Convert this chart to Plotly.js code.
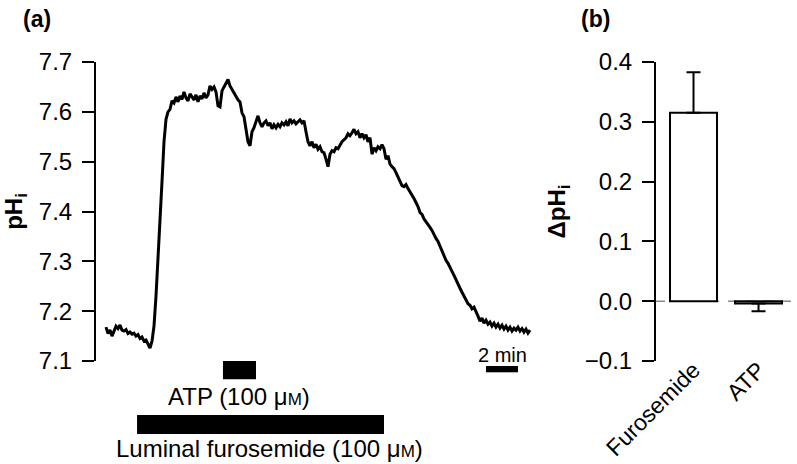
<!DOCTYPE html>
<html><head><meta charset="utf-8">
<script src="https://cdn.plot.ly/plotly-3.0.1.min.js"></script>
<style>html,body{margin:0;padding:0;background:#fff}#chart{width:797px;height:464px}</style>
</head><body><div id="chart"></div>
<script>
// Panel (a): pHi trace, sampled every 0.125 min starting at t = 0
const sampleIntervalMin = 0.125;
const pHi = [
7.168,7.155,7.162,7.150,7.160,7.170,7.165,7.172,7.162,7.160,
7.163,7.155,7.158,7.154,7.156,7.150,7.153,7.145,7.148,7.140,
7.142,7.132,7.126,7.140,7.170,7.230,7.300,7.370,7.460,7.540,
7.585,7.600,7.605,7.622,7.618,7.630,7.620,7.632,7.625,7.640,
7.628,7.622,7.636,7.630,7.624,7.634,7.620,7.632,7.626,7.638,
7.628,7.634,7.652,7.645,7.650,7.640,7.612,7.610,7.642,7.650,
7.658,7.665,7.652,7.645,7.636,7.630,7.624,7.620,7.598,7.590,
7.565,7.540,7.532,7.560,7.568,7.580,7.592,7.578,7.570,7.578,
7.582,7.572,7.578,7.566,7.574,7.568,7.575,7.570,7.578,7.574,
7.580,7.572,7.586,7.578,7.582,7.576,7.580,7.584,7.578,7.582,
7.560,7.540,7.532,7.540,7.528,7.535,7.525,7.530,7.520,7.518,
7.505,7.490,7.515,7.522,7.520,7.528,7.526,7.534,7.540,7.544,
7.548,7.556,7.552,7.558,7.565,7.556,7.560,7.548,7.556,7.548,
7.554,7.540,7.548,7.515,7.528,7.522,7.530,7.526,7.534,7.526,
7.505,7.512,7.495,7.490,7.486,7.478,7.470,7.462,7.452,7.450,
7.454,7.446,7.440,7.432,7.426,7.418,7.410,7.398,7.394,7.385,
7.380,7.374,7.368,7.362,7.352,7.346,7.340,7.330,7.320,7.312,
7.302,7.296,7.286,7.280,7.272,7.262,7.256,7.246,7.238,7.230,
7.222,7.215,7.212,7.205,7.208,7.200,7.190,7.180,7.186,7.176,
7.182,7.174,7.178,7.170,7.176,7.168,7.174,7.166,7.172,7.164,
7.170,7.162,7.168,7.160,7.166,7.162,7.168,7.160,7.165,7.158,
7.164,7.156,7.162
];
const timeMin = pHi.map((_, i) => i * sampleIntervalMin);

// Application periods (min)
const atpPeriod = [7.31, 9.375];
const furosemidePeriod = [1.94, 17.375];
const scaleBar = [23.75, 25.75];
const atpLabel = 'ATP (100 \u03bc<span style="font-size:17px">M</span>)';
const furoLabel = 'Luminal furosemide (100 \u03bc<span style="font-size:17px">M</span>)';

// Panel (b): mean ΔpHi
const categories = ['Furosemide', 'ATP'];
const deltaPHi = [0.315, -0.004];
const errPlus = [0.068, 0];
const errMinus = [0, 0.013];

const FONT = 'Liberation Sans, Arial, Helvetica, sans-serif';

const traces = [
  {x: timeMin, y: pHi, type: 'scatter', mode: 'lines', xaxis: 'x', yaxis: 'y',
   line: {color: '#000', width: 3}, hoverinfo: 'skip', showlegend: false},
  {x: categories, y: deltaPHi, type: 'bar', xaxis: 'x2', yaxis: 'y2', width: 0.723,
   marker: {color: '#fff', line: {color: '#000', width: 2}},
   error_y: {type: 'data', symmetric: false, array: errPlus, arrayminus: errMinus,
             color: '#000', thickness: 2, width: 7},
   showlegend: false}
];

const layout = {
  width: 797, height: 464,
  margin: {l: 0, r: 0, t: 62, b: 103},
  paper_bgcolor: '#fff', plot_bgcolor: 'rgba(0,0,0,0)',
  font: {family: FONT, size: 24, color: '#000'},
  showlegend: false,
  xaxis: {domain: [96/797, 540/797], range: [-0.625, 27.125], visible: false, fixedrange: true},
  yaxis: {domain: [0, 1], range: [7.1, 7.7], tickvals: [7.1,7.2,7.3,7.4,7.5,7.6,7.7],
          tickformat: '.1f', showline: true, linecolor: '#000', linewidth: 2,
          ticks: 'outside', ticklen: 12, tickwidth: 2, tickcolor: '#000',
          showgrid: false, zeroline: false, ticklabelstandoff: 5,
          tickfont: {size: 24},
          title: {text: 'pH<sub>i</sub>', font: {size: 24, weight: 'bold'}, standoff: 12}},
  xaxis2: {domain: [656/797, 1], range: [-0.577, 1.592], anchor: 'y2',
           showline: false, ticks: '', showgrid: false, zeroline: false,
           tickangle: -45, tickfont: {size: 23}, ticklabelstandoff: -10},
  yaxis2: {domain: [0, 1], range: [-0.1, 0.4], anchor: 'x2',
           tickvals: [-0.1, 0, 0.1, 0.2, 0.3, 0.4], tickformat: '.1f',
           showline: true, linecolor: '#000', linewidth: 2,
           ticks: 'outside', ticklen: 12, tickwidth: 2, tickcolor: '#000',
           showgrid: false, zeroline: false, ticklabelstandoff: 5,
           tickfont: {size: 24},
           title: {text: '\u0394pH<sub>i</sub>', font: {size: 24, weight: 'bold'}, standoff: 12}},
  shapes: [
    {type: 'rect', xref: 'x', yref: 'paper', x0: atpPeriod[0], x1: atpPeriod[1],
     y0: -0.0613, y1: 0, fillcolor: '#000', line: {width: 0}},
    {type: 'rect', xref: 'x', yref: 'paper', x0: furosemidePeriod[0], x1: furosemidePeriod[1],
     y0: -0.2441, y1: -0.1806, fillcolor: '#000', line: {width: 0}},
    {type: 'rect', xref: 'x', yref: 'paper', x0: scaleBar[0], x1: scaleBar[1],
     y0: -0.0378, y1: -0.0167, fillcolor: '#000', line: {width: 0}},
    {type: 'line', xref: 'paper', yref: 'y2', x0: 656/797, x1: 1, y0: 0, y1: 0,
     line: {color: '#888', width: 1.5, dash: 'dash'}, layer: 'below'}
  ],
  annotations: [
    {xref: 'x', yref: 'paper', x: (atpPeriod[0] + atpPeriod[1]) / 2, y: -0.12, text: atpLabel,
     showarrow: false, font: {size: 24}, xanchor: 'center', yanchor: 'middle'},
    {xref: 'x', yref: 'paper', x: 10.2, y: -0.294, text: furoLabel,
     showarrow: false, font: {size: 24}, xanchor: 'center', yanchor: 'middle'},
    {xref: 'x', yref: 'paper', x: (scaleBar[0] + scaleBar[1]) / 2, y: 0.02, text: '2 min',
     showarrow: false, font: {size: 20}, xanchor: 'center', yanchor: 'middle'},
    {xref: 'x2', yref: 'y2', x: 'Furosemide', y: 0.405, text: '*', showarrow: false,
     font: {size: 24, weight: 'bold'}, xanchor: 'center', yanchor: 'middle'},
    {xref: 'paper', yref: 'paper', x: 21/797, y: (361 - 19) / 299, text: '<b>(a)</b>',
     showarrow: false, font: {size: 23}, xanchor: 'left', yanchor: 'middle'},
    {xref: 'paper', yref: 'paper', x: 579/797, y: (361 - 19) / 299, text: '<b>(b)</b>',
     showarrow: false, font: {size: 23}, xanchor: 'left', yanchor: 'middle'}
  ]
};

Plotly.newPlot('chart', traces, layout, {displayModeBar: false, staticPlot: true});
</script>
</body></html>
